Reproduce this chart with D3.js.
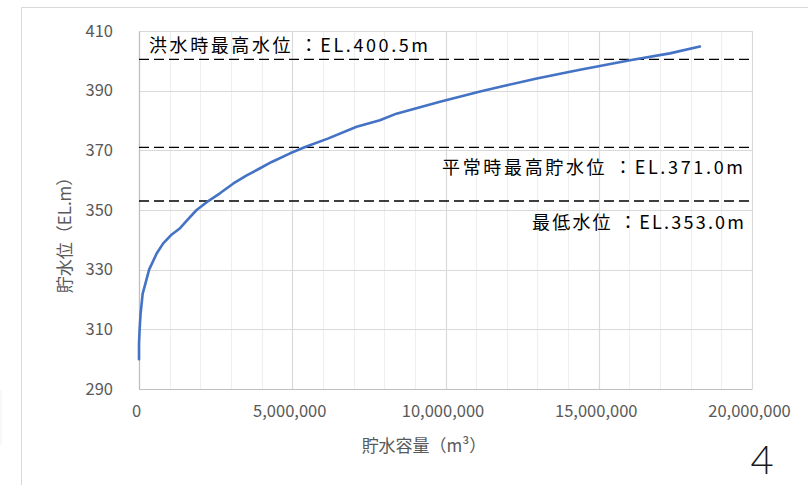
<!DOCTYPE html>
<html><head><meta charset="utf-8">
<script src="https://cdn.jsdelivr.net/npm/d3@7/dist/d3.min.js"></script>
<style>html,body{margin:0;padding:0;background:#fff;}svg{display:block;}</style>
</head><body>
<script>
// Data: storage volume (m3) vs water level (EL.m)
const volume = [0, 0, 20000, 50000, 120000, 200000, 330000, 580000, 790000, 1070000, 1340000, 1610000, 1880000, 2260000, 2640000, 3080000, 3500000, 3950000, 4330000, 4930000, 5420000, 6180000, 7100000, 7860000, 8400000, 9820000, 11130000, 12000000, 12980000, 13740000, 14390000, 16020000, 17320000, 18300000];
const level  = [300, 305, 310, 315, 322, 325, 330, 335.5, 338.8, 341.8, 343.9, 347, 350, 353, 355.6, 358.9, 361.5, 364, 366.1, 369, 371.1, 374, 377.9, 380.1, 382.3, 386.3, 389.7, 391.8, 394.1, 395.7, 397, 400.2, 402.5, 404.8];
const yTicks = [290, 310, 330, 350, 370, 390, 410];
const xTicks = [0, 5000000, 10000000, 15000000, 20000000];
const refLevels = [400.5, 371.0, 353.0];
const refLabels = ["洪水時最高水位 ：EL.400.5m", "平常時最高貯水位 ：EL.371.0m", "最低水位 ：EL.353.0m"];
const xTitle = "貯水容量（m³）";
const yTitle = "貯水位（EL.m）";
const pageNo = "4";

const W = 808, H = 485;
const svg = d3.select("body").append("svg").attr("width", W).attr("height", H);
const font = "'Noto Sans CJK JP','Noto Sans',sans-serif";

// outer chart frame
svg.append("line").attr("x1", 21.5).attr("x2", W).attr("y1", 7.5).attr("y2", 7.5).attr("stroke", "#d9d9d9");
svg.append("line").attr("x1", 21.5).attr("x2", 21.5).attr("y1", 7.5).attr("y2", H).attr("stroke", "#d9d9d9");
svg.append("line").attr("x1", 1).attr("x2", 1).attr("y1", 390).attr("y2", 445).attr("stroke", "#f0f0f0");

const m = {left: 139, right: 752, top: 31, bottom: 389};
const x = d3.scaleLinear().domain([0, 20000000]).range([m.left, m.right]);
const y = d3.scaleLinear().domain([290, 410]).range([m.bottom, m.top]);

// minor vertical gridlines
const minor = d3.range(0, 20000001, 1000000).filter(v => v % 5000000 !== 0);
svg.append("g").selectAll("line").data(minor).join("line")
  .attr("x1", d => Math.round(x(d)) + 0.5).attr("x2", d => Math.round(x(d)) + 0.5)
  .attr("y1", m.top).attr("y2", m.bottom).attr("stroke", "#efefef").attr("stroke-width", 1.2);
// major vertical gridlines
svg.append("g").selectAll("line").data(xTicks).join("line")
  .attr("x1", d => Math.round(x(d)) + 0.5).attr("x2", d => Math.round(x(d)) + 0.5)
  .attr("y1", m.top).attr("y2", m.bottom).attr("stroke", "#d9d9d9").attr("stroke-width", 1.2);
// horizontal gridlines
svg.append("g").selectAll("line").data(yTicks).join("line")
  .attr("x1", m.left).attr("x2", m.right)
  .attr("y1", d => Math.round(y(d)) + 0.5).attr("y2", d => Math.round(y(d)) + 0.5)
  .attr("stroke", "#d9d9d9").attr("stroke-width", 1.2);

// axes
const xAxis = d3.axisBottom(x).tickValues(xTicks).tickSize(0).tickPadding(16)
  .tickFormat(d3.format(","));
const gx = svg.append("g").attr("transform", `translate(0,${m.bottom})`).call(xAxis);
gx.select(".domain").attr("stroke", "#bfbfbf").attr("stroke-width", 1.2);
gx.selectAll("text").attr("fill", "#595959").style("font-family", font).style("font-size", "16.5px")
  .attr("dx", -3);

const yAxis = d3.axisLeft(y).tickValues(yTicks).tickSize(0).tickPadding(26);
const gy = svg.append("g").attr("transform", `translate(${m.left},0)`).call(yAxis);
gy.select(".domain").attr("stroke", "#bfbfbf").attr("stroke-width", 1.2);
gy.selectAll("text").attr("fill", "#595959").style("font-family", font).style("font-size", "16.5px");

// reference dashed lines
svg.append("g").selectAll("line").data(refLevels).join("line")
  .attr("x1", m.left).attr("x2", m.right)
  .attr("y1", d => y(d)).attr("y2", d => y(d))
  .attr("stroke", "#000").attr("stroke-width", 1.4).attr("stroke-dasharray", "10,5");

// curve
const pts = volume.map((v, i) => [v, level[i]]);
svg.append("path").datum(pts)
  .attr("fill", "none").attr("stroke", "#4472C4").attr("stroke-width", 2.6)
  .attr("stroke-linejoin", "round").attr("stroke-linecap", "round")
  .attr("d", d3.line().x(d => x(d[0])).y(d => y(d[1])));

// reference labels
const labelCfg = [
  {anchor: "start", px: 149, base: 52, len: 279},
  {anchor: "end", px: 743, base: 174, len: 301},
  {anchor: "end", px: 744, base: 229, len: 212}
];
refLabels.forEach((t, i) => {
  const c = labelCfg[i];
  const startX = c.anchor === "start" ? c.px : c.px - c.len;
  svg.append("text").attr("x", startX).attr("y", c.base)
    .attr("textLength", c.len).attr("lengthAdjust", "spacing")
    .attr("fill", "#000").style("font-family", font).style("font-size", "18px")
    .text(t);
});

// axis titles
svg.append("text").attr("x", 424).attr("y", 452).attr("text-anchor", "middle")
  .attr("fill", "#595959").style("font-family", font).style("font-size", "17px").text(xTitle);
svg.append("text").attr("transform", "translate(71,231) rotate(-90)").attr("text-anchor", "middle")
  .attr("fill", "#595959").style("font-family", font).style("font-size", "17px").text(yTitle);

// page number
svg.append("text").attr("x", 762).attr("y", 474).attr("text-anchor", "middle")
  .attr("fill", "#1a1a1a").style("font-family", "Lato,'Noto Sans',sans-serif")
  .style("font-weight", 300).style("font-size", "40px").text(pageNo);
</script>
</body></html>
